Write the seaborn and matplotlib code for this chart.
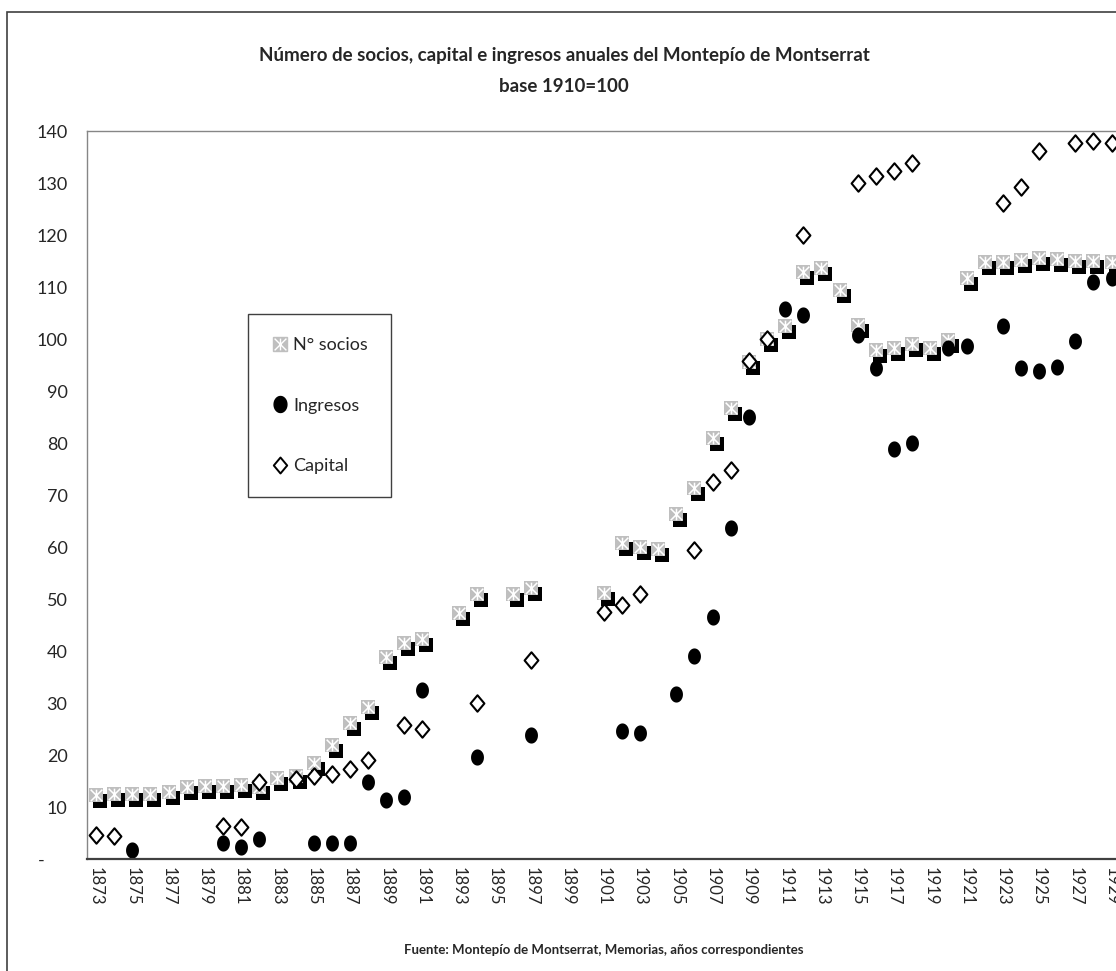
import numpy as np
import pandas as pd
import matplotlib.pyplot as plt
import matplotlib.transforms as mtransforms
import seaborn as sns
from matplotlib.path import Path
from matplotlib.lines import Line2D
from matplotlib.patches import Rectangle

nan = np.nan

# datos (base 1910 = 100)
years = list(range(1873, 1930))

socios = [12.3, 12.6, 12.6, 12.6, 12.9, 13.8, 14.0, 14.0, 14.2, 13.9,      # 1873-1882
          15.5, 16.0, 18.4, 21.9, 26.1, 29.3, 38.9, 41.6, 42.3, nan,       # 1883-1892
          47.4, 50.9, nan, 50.9, 52.1, nan, nan, nan, 51.1, 60.8,          # 1893-1902
          60.0, 59.6, 66.4, 71.3, 80.9, 86.7, 95.6, 100.0, 102.5, 112.9,   # 1903-1912
          113.6, 109.5, 102.7, 97.9, 98.3, 99.0, 98.3, 99.8, 111.7, 114.8, # 1913-1922
          114.8, 115.2, 115.6, 115.4, 115.0, 115.0, 114.9]                 # 1923-1929

ingresos = [nan, nan, 1.7, nan, nan, nan, nan, 3.0, 2.4, 3.8,
            nan, nan, 3.1, 3.1, 3.1, 14.9, 11.3, 11.9, 32.6, nan,
            nan, 19.6, nan, nan, 23.9, nan, nan, nan, nan, 24.7,
            24.3, nan, 31.7, 39.1, 46.5, 63.6, 85.1, nan, 105.7, 104.6,
            nan, nan, 100.8, 94.5, 78.9, 80.1, nan, 98.3, 98.6, nan,
            102.5, 94.5, 93.8, 94.7, 99.6, 111.0, 111.7]

capital = [4.6, 4.4, nan, nan, nan, nan, nan, 6.3, 6.2, 14.9,
           nan, 15.3, 16.0, 16.3, 17.4, 19.0, nan, 25.8, 25.1, nan,
           nan, 30.1, nan, nan, 38.3, nan, nan, nan, 47.6, 48.8,
           50.9, nan, nan, 59.4, 72.5, 74.8, 95.8, 100.0, nan, 120.0,
           nan, nan, 130.1, 131.3, 132.4, 133.8, nan, nan, nan, nan,
           126.1, 129.3, 136.2, nan, 137.8, 138.1, 137.8]

yticks = list(range(0, 141, 10))
ytick_labels = ['-     '] + [str(v) for v in yticks[1:]]
xticks = years[::2]

titulo = 'Número de socios, capital e ingresos anuales del Montepío de Montserrat'
subtitulo = 'base 1910=100'
fuente = 'Fuente: Montepío de Montserrat, Memorias, años correspondientes'

df = pd.DataFrame({'year': years, 'socios': socios, 'ingresos': ingresos, 'capital': capital})

sns.set_theme(style='white')
plt.rcParams['font.family'] = ['Lato', 'DejaVu Sans']

# marcadores a medida
star = Path([(-0.5, -0.5), (0.5, 0.5), (-0.5, 0.5), (0.5, -0.5), (0, -0.5), (0, 0.5)],
            [Path.MOVETO, Path.LINETO, Path.MOVETO, Path.LINETO, Path.MOVETO, Path.LINETO])
t = np.linspace(0, 2 * np.pi, 60)
ellipse = Path(np.column_stack([0.4 * np.cos(t), 0.5 * np.sin(t)]), closed=True)
diamond = Path([(0, 0.5), (0.42, 0), (0, -0.5), (-0.42, 0), (0, 0.5)], closed=True)

fig = plt.figure(figsize=(11.16, 9.71), dpi=100)
ax = fig.add_axes([0.0779, 0.1153, 0.9263, 0.7497])

gris = '#bfbfbf'
shadow = ax.transData + mtransforms.ScaledTranslation(0.04, -0.06, fig.dpi_scale_trans)

# N° socios: sombra negra + cuadrado gris + aspa blanca
sns.scatterplot(data=df, x='year', y='socios', marker='s', s=100, color='black',
                linewidth=0, transform=shadow, ax=ax)
sns.scatterplot(data=df, x='year', y='socios', marker='s', s=100, color=gris,
                linewidth=0, ax=ax)
sns.scatterplot(data=df, x='year', y='socios', marker=star, s=70, color='white',
                edgecolor='white', linewidth=1.1, ax=ax)
# Ingresos
sns.scatterplot(data=df, x='year', y='ingresos', marker=ellipse, s=135, color='black',
                linewidth=0, ax=ax)
# Capital
sns.scatterplot(data=df, x='year', y='capital', marker=diamond, s=140, color='white',
                edgecolor='black', linewidth=1.5, ax=ax)

ax.set_xlim(1872.5, 1929.5)
ax.set_ylim(0, 140)
ax.set_xticks(xticks)
ax.set_xticklabels([str(y) for y in xticks], rotation=-90, ha='center', va='top', fontsize=12)
ax.set_yticks(yticks)
ax.set_yticklabels(ytick_labels, fontsize=13)
ax.tick_params(axis='y', length=0, pad=14)
ax.tick_params(axis='x', length=0, pad=6)
ax.set_xlabel('')
ax.set_ylabel('')

for side in ['left', 'top', 'right']:
    ax.spines[side].set_color('#868686')
    ax.spines[side].set_linewidth(1.0)
ax.spines['bottom'].set_color('#404040')
ax.spines['bottom'].set_linewidth(1.6)

# leyenda
h_socios = (Line2D([], [], marker='s', markersize=10.5, color=gris, linestyle='none'),
            Line2D([], [], marker=star, markersize=8.5, color='white', markeredgewidth=1.0,
                   linestyle='none'))
h_ing = Line2D([], [], marker=ellipse, markersize=11.5, color='black', linestyle='none')
h_cap = Line2D([], [], marker=diamond, markersize=11.5, markerfacecolor='white',
               markeredgecolor='black', markeredgewidth=1.4, linestyle='none')
leg = ax.legend([h_socios, h_ing, h_cap], ['N° socios', 'Ingresos', 'Capital'],
                loc='upper left', bbox_to_anchor=(248 / 1116, 1 - 314 / 971),
                bbox_transform=fig.transFigure, frameon=True, fancybox=False,
                edgecolor='#404040', framealpha=1, fontsize=13, labelspacing=2.45,
                handlelength=0.9, handletextpad=0.3, borderpad=1.3, borderaxespad=0)
leg.get_frame().set_linewidth(1.0)

# titulos
fig.text(564 / 1116, 1 - 55 / 971, titulo, ha='center', va='center',
         fontsize=13.5, fontweight='bold')
fig.text(564 / 1116, 1 - 86 / 971, subtitulo, ha='center', va='center',
         fontsize=13.5, fontweight='bold')
fig.text(604 / 1116, 1 - 950 / 971, fuente, ha='center', va='center',
         fontsize=9.5, fontweight='bold')

# marco exterior del grafico
fig.add_artist(Rectangle((7 / 1116, -0.05), 1.2, (971 - 12) / 971 + 0.05,
                         transform=fig.transFigure, fill=False, edgecolor='#404040',
                         linewidth=1.2))

fig.savefig('out.png', dpi=100)
